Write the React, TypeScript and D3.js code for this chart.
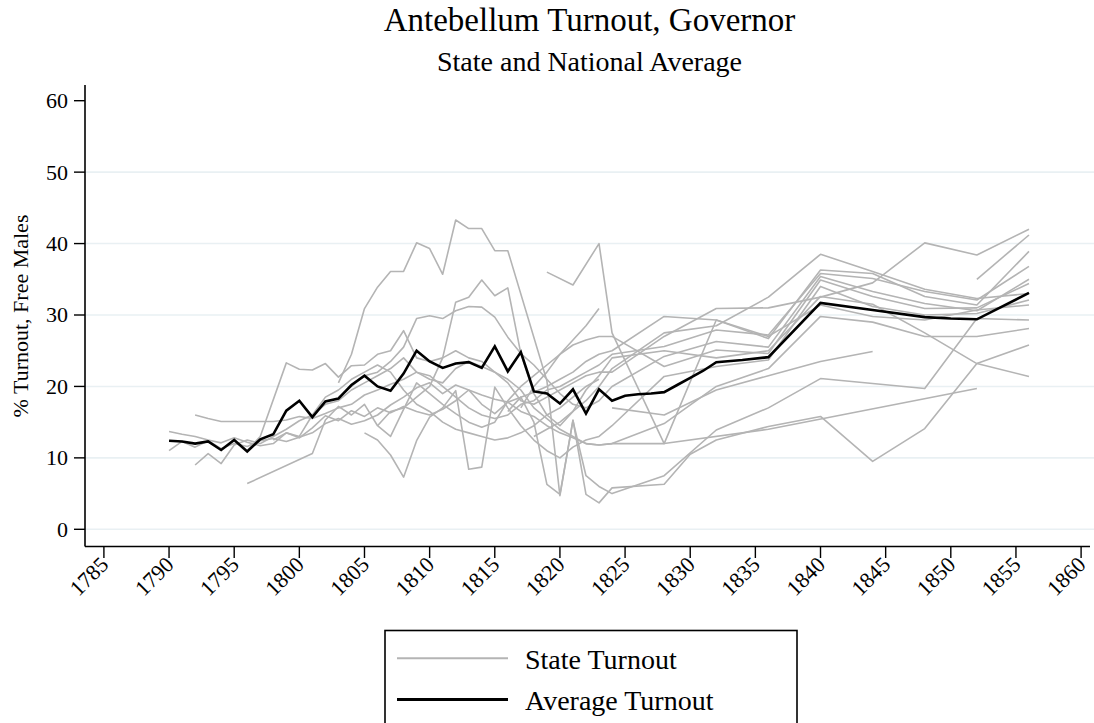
import React, { useEffect } from "react";
import * as d3 from "d3";

// ---------- data ----------
const xTickYears = [1785, 1790, 1795, 1800, 1805, 1810, 1815, 1820, 1825, 1830, 1835, 1840, 1845, 1850, 1855, 1860];
const yTickValues = [0, 10, 20, 30, 40, 50, 60];
const gridValues = [0, 10, 20, 30, 40, 50];

const avgYears = [1790,1791,1792,1793,1794,1795,1796,1797,1798,1799,1800,1801,1802,1803,1804,1805,1806,1807,1808,1809,1810,1811,1812,1813,1814,1815,1816,1817,1818,1819,1820,1821,1822,1823,1824,1825,1826,1827,1828,1829,1830,1831,1832,1834,1836,1840,1844,1848,1850,1852,1856];
const avgValues = [12.4,12.3,12.0,12.3,11.1,12.5,10.9,12.6,13.3,16.6,18.0,15.7,17.9,18.3,20.2,21.5,20.0,19.4,21.8,25.0,23.5,22.6,23.2,23.4,22.6,25.6,22.1,24.8,19.3,19.0,17.6,19.6,16.2,19.6,18.0,18.7,18.9,19.0,19.2,20.2,21.2,22.2,23.4,23.7,24.1,31.7,30.7,29.7,29.5,29.4,33.1];

type Pt = [number, number];

const stateE1: Pt[] = [[1790,13.7],[1791,13.3],[1792,13.0],[1793,12.5],[1794,12.1],[1795,12.8],[1796,12.2],[1797,11.7],[1798,12.0],[1799,13.5],[1800,12.8],[1801,14.2],[1802,15.9],[1803,15.2],[1804,16.6],[1805,15.8],[1806,17.0],[1807,16.3],[1808,17.2],[1809,16.5],[1810,16.0],[1811,16.8],[1812,18.0],[1813,19.5],[1814,17.5],[1815,16.2],[1816,17.8],[1817,18.5],[1818,19.2],[1819,20.0],[1820,21.0],[1821,22.0],[1822,23.5],[1823,24.5],[1824,25.0],[1828,29.8],[1832,29.3],[1836,26.7],[1840,36.3],[1844,35.8],[1848,32.6],[1852,31.4],[1856,38.9]];
const stateE2: Pt[] = [[1790,11.0],[1791,12.3],[1792,11.5],[1793,12.4],[1794,11.3],[1795,12.0],[1796,11.6],[1797,12.4],[1798,12.7],[1799,12.3],[1800,12.9],[1801,13.5],[1802,14.8],[1803,15.5],[1804,14.7],[1805,15.2],[1806,16.0],[1807,17.4],[1808,18.5],[1809,19.8],[1810,20.5],[1811,19.0],[1812,20.2],[1813,19.5],[1814,18.8],[1815,18.2],[1816,17.8],[1817,16.5],[1818,15.8],[1819,14.5],[1820,13.5],[1821,12.8],[1822,12.0],[1823,11.8],[1824,12.0],[1828,14.8],[1832,20.0],[1836,22.5],[1840,29.8],[1844,29.0],[1848,27.0],[1852,27.0],[1856,28.1]];
const stateE3: Pt[] = [[1792,16.0],[1793,15.5],[1794,15.1],[1796,15.1],[1798,15.1],[1799,15.3],[1800,15.8],[1801,15.5],[1802,16.2],[1803,17.0],[1804,17.5],[1805,18.8],[1806,19.5],[1807,20.3],[1808,21.0],[1809,22.0],[1810,21.0],[1811,20.5],[1812,22.5],[1813,23.5],[1814,22.8],[1815,22.0],[1816,21.0],[1817,19.5],[1818,17.0],[1819,15.5],[1820,14.0],[1821,13.0],[1822,12.0],[1823,11.8],[1824,12.0],[1828,12.0],[1836,14.0],[1852,19.7]];
const stateE4: Pt[] = [[1792,9.0],[1793,10.6],[1794,9.2],[1795,11.8],[1796,12.5],[1797,12.0],[1798,13.0],[1799,14.0],[1800,15.2],[1801,16.0],[1802,17.5],[1803,18.0],[1804,19.5],[1805,20.5],[1806,21.5],[1807,22.5],[1808,24.0],[1809,22.0],[1810,21.5],[1811,20.0],[1812,18.5],[1813,17.0],[1814,16.0],[1815,15.5],[1816,16.0],[1817,17.5],[1818,18.0],[1819,19.5],[1820,20.0],[1821,21.0],[1822,22.0],[1823,23.0],[1824,24.5],[1828,25.6],[1832,27.9],[1836,27.2],[1840,35.8],[1844,35.1],[1848,33.3],[1852,32.1],[1856,36.8]];
const stateE5: Pt[] = [[1796,6.4],[1801,10.6],[1802,15.3],[1803,17.2],[1804,16.0],[1805,17.5],[1806,14.5],[1807,13.0],[1808,16.8],[1809,20.5],[1810,19.0],[1811,17.5],[1812,16.2],[1813,15.0],[1814,14.3],[1815,15.0],[1816,18.0],[1817,20.0],[1818,21.5],[1819,23.0],[1820,24.5],[1821,25.8],[1822,26.5],[1823,27.0],[1824,27.0],[1828,22.8],[1832,25.1],[1836,24.6],[1840,34.9],[1844,32.6],[1848,30.9],[1852,31.0],[1856,34.4]];
const stateE6: Pt[] = [[1796,11.0],[1797,13.0],[1799,23.3],[1800,22.4],[1801,22.3],[1802,23.2],[1803,21.3],[1804,22.9],[1805,23.0],[1806,24.5],[1807,25.0],[1808,27.8],[1809,24.0],[1810,23.5],[1811,24.0],[1812,25.0],[1813,24.0],[1814,23.5],[1815,22.0],[1816,20.5],[1817,18.0],[1818,17.5],[1819,18.5],[1820,19.5],[1821,20.5],[1822,21.5],[1823,22.0],[1824,22.0],[1828,27.0],[1832,30.9],[1836,31.0],[1840,32.5],[1844,34.5],[1848,40.1],[1852,38.4],[1856,42.0]];
const stateE7: Pt[] = [[1803,20.5],[1804,24.5],[1805,30.9],[1806,33.9],[1807,36.1],[1808,36.1],[1809,40.1],[1810,39.3],[1811,35.7],[1812,43.3],[1813,42.1],[1814,42.1],[1815,39.0],[1816,39.0],[1819,20.8],[1820,4.7],[1821,15.3],[1822,4.9],[1823,3.7],[1824,5.8],[1828,6.3],[1830,10.5],[1832,12.5],[1836,14.4],[1840,15.8],[1844,9.5],[1848,14.1],[1852,23.2],[1856,25.8]];
const stateE8: Pt[] = [[1803,18.5],[1804,20.0],[1805,21.5],[1806,22.0],[1807,23.5],[1808,25.5],[1809,29.5],[1810,29.9],[1811,29.5],[1812,30.6],[1813,31.2],[1814,31.1],[1815,29.7],[1816,26.9],[1817,24.6],[1818,23.0],[1819,21.0],[1820,19.0],[1821,17.5],[1822,17.0],[1823,18.0],[1824,20.0],[1828,24.2],[1832,26.3],[1836,25.5],[1840,35.4],[1844,33.3],[1848,31.6],[1852,30.6],[1856,35.0]];
const stateE9: Pt[] = [[1806,14.5],[1807,16.5],[1808,17.0],[1809,18.5],[1810,20.0],[1811,24.0],[1812,31.8],[1813,32.5],[1814,34.9],[1815,32.7],[1816,33.8],[1817,24.6],[1818,19.0],[1819,16.0],[1820,14.5],[1821,16.5],[1822,19.5],[1823,21.5],[1824,24.0],[1828,25.0],[1832,24.0],[1836,25.0],[1840,32.6],[1844,31.5],[1848,27.5],[1852,23.2],[1856,21.4]];
const stateE10: Pt[] = [[1805,13.5],[1806,12.5],[1807,10.4],[1808,7.3],[1809,12.4],[1810,15.7],[1811,17.0],[1812,19.4],[1813,8.4],[1814,8.7],[1815,19.9],[1816,17.0],[1817,14.5],[1818,12.5],[1819,11.0],[1820,10.0],[1821,11.5],[1822,12.5],[1823,13.0],[1824,14.5],[1828,21.4],[1832,22.8],[1836,23.7],[1840,34.0],[1844,31.2],[1848,30.0],[1852,30.2],[1856,32.1]];
const stateE11: Pt[] = [[1819,36.0],[1821,34.2],[1823,40.0],[1824,27.5],[1828,12.0],[1832,29.3],[1836,27.0],[1840,31.4],[1844,29.8],[1848,29.3],[1852,30.7],[1856,31.4]];
const stateE12: Pt[] = [[1817,17.0],[1818,20.0],[1819,22.0],[1820,24.5],[1821,26.5],[1822,28.5],[1823,30.9]];
const stateE13: Pt[] = [[1816,16.5],[1817,18.5],[1818,15.0],[1819,6.3],[1820,4.9],[1821,15.2],[1822,7.5],[1823,6.0],[1824,5.0],[1828,7.5],[1832,13.9],[1836,17.0],[1840,21.1],[1844,20.4],[1848,19.7],[1852,29.5],[1856,29.3]];
const stateE14: Pt[] = [[1818,13.0],[1819,14.0],[1820,15.0],[1821,16.5],[1822,18.0],[1823,20.0],[1824,22.5],[1828,27.5],[1832,28.5],[1836,32.5],[1840,38.5],[1844,36.1],[1848,33.6],[1852,32.3],[1856,33.0]];
const stateE15: Pt[] = [[1824,17.0],[1828,16.0],[1832,19.5],[1836,21.5],[1840,23.5],[1844,24.9]];
const stateE16: Pt[] = [[1852,35.0],[1856,41.2]];
const stateE17: Pt[] = [[1798,12.5],[1799,13.5],[1800,13.0],[1801,16.0],[1802,18.5],[1803,19.5],[1804,21.0],[1805,22.0],[1806,23.0],[1807,22.0],[1808,19.5],[1809,17.5],[1810,16.5],[1811,15.0],[1812,14.0],[1813,13.5],[1814,13.0],[1815,12.5],[1816,12.8],[1817,13.5],[1818,14.5],[1819,16.0],[1820,17.0],[1821,18.5],[1822,20.0],[1823,21.0]];

const stateSeries: Pt[][] = [stateE1, stateE2, stateE3, stateE4, stateE5, stateE6, stateE7, stateE8, stateE9, stateE10, stateE11, stateE12, stateE13, stateE14, stateE15, stateE16, stateE17];

const titleText = "Antebellum Turnout, Governor";
const subtitleText = "State and National Average";
const yAxisTitle = "% Turnout, Free Males";
const legendLabels = ["State Turnout", "Average Turnout"];

// ---------- layout ----------
const W = 1094;
const H = 723;
const FONT = "'Liberation Serif', 'Times New Roman', Times, serif";
const axisLeft = 85;
const axisBottom = 546.5;
const plotRight = 1094;
const plotTop = 85;

const GRAY = "#b4b4b4";

export default function App() {
  useEffect(() => {
    document.body.style.margin = "0";
  }, []);

  const x = d3.scaleLinear().domain([1785, 1860]).range([103.9, 1081.1]);
  const y = d3.scaleLinear().domain([0, 60]).range([529.3, 100.7]);

  const line = d3
    .line<Pt>()
    .x((d) => x(d[0]))
    .y((d) => y(d[1]));

  const avgData: Pt[] = avgYears.map((yr, i) => [yr, avgValues[i]]);

  return (
    <svg
      width={W}
      height={H}
      style={{ position: "absolute", left: 0, top: 0, display: "block", background: "#fff" }}
      fontFamily={FONT}
    >
      <rect x={0} y={0} width={W} height={H} fill="#ffffff" />
      {/* gridlines */}
      {gridValues.map((v) => (
        <line key={"g" + v} x1={axisLeft} x2={plotRight} y1={y(v)} y2={y(v)} stroke="#e9f0f3" strokeWidth={1.6} />
      ))}

      {/* state lines */}
      {stateSeries.map((s, i) => (
        <path key={"s" + i} d={line(s) || ""} fill="none" stroke={GRAY} strokeWidth={1.6} strokeLinejoin="round" />
      ))}

      {/* average */}
      <path d={line(avgData) || ""} fill="none" stroke="#000" strokeWidth={2.6} strokeLinejoin="miter" />

      {/* axes */}
      <line x1={axisLeft} x2={axisLeft} y1={plotTop} y2={axisBottom} stroke="#000" strokeWidth={1.6} />
      <line x1={axisLeft} x2={plotRight - 4} y1={axisBottom} y2={axisBottom} stroke="#000" strokeWidth={1.6} />

      {yTickValues.map((v) => (
        <g key={"yt" + v}>
          <line x1={74} x2={axisLeft} y1={y(v)} y2={y(v)} stroke="#000" strokeWidth={1.4} />
          <text x={68} y={y(v)} dy="0.34em" textAnchor="end" fontSize={22} fill="#000">
            {v}
          </text>
        </g>
      ))}

      {xTickYears.map((yr) => (
        <g key={"xt" + yr}>
          <line x1={x(yr)} x2={x(yr)} y1={axisBottom} y2={558} stroke="#000" strokeWidth={1.4} />
          <text
            transform={`translate(${x(yr) + 6},${566}) rotate(-45)`}
            textAnchor="end"
            fontSize={22}
            fill="#000"
          >
            {yr}
          </text>
        </g>
      ))}

      {/* y axis title */}
      <text transform={`translate(28,316) rotate(-90)`} textAnchor="middle" fontSize={22} fill="#000">
        {yAxisTitle}
      </text>

      {/* titles */}
      <text x={589.5} y={31} textAnchor="middle" fontSize={33} fill="#000">
        {titleText}
      </text>
      <text x={589.5} y={71} textAnchor="middle" fontSize={28} fill="#000">
        {subtitleText}
      </text>

      {/* legend */}
      <rect x={385} y={630.5} width={412} height={110} fill="#fff" stroke="#000" strokeWidth={1.6} />
      <line x1={397} x2={508} y1={658.3} y2={658.3} stroke={GRAY} strokeWidth={2} />
      <text x={525} y={669} fontSize={28} fill="#000">
        {legendLabels[0]}
      </text>
      <line x1={397} x2={508} y1={699.5} y2={699.5} stroke="#000" strokeWidth={3} />
      <text x={525} y={710} fontSize={28} fill="#000">
        {legendLabels[1]}
      </text>
    </svg>
  );
}
